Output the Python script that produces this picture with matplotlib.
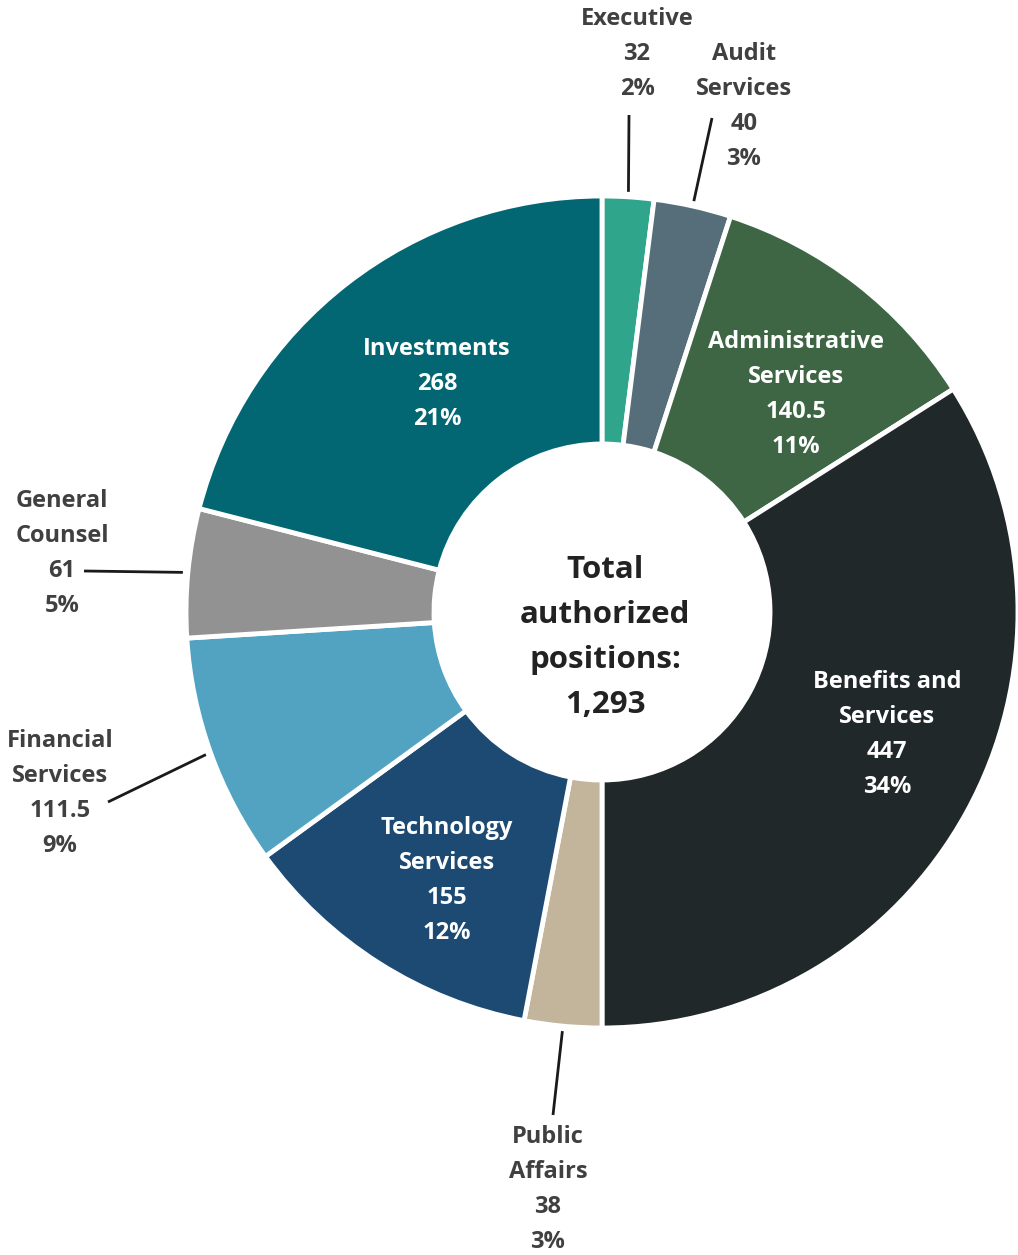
import numpy as np
import matplotlib.pyplot as plt

# authorized positions by division, clockwise from the top
divisions = ["Executive", "Audit\nServices", "Administrative\nServices", "Benefits and\nServices",
             "Public\nAffairs", "Technology\nServices", "Financial\nServices", "General\nCounsel",
             "Investments"]
positions = ["32", "40", "140.5", "447", "38", "155", "111.5", "61", "268"]
shares = [2, 3, 11, 34, 3, 12, 9, 5, 21]  # percent of total, used for the ring
colors = ["#2fa58c", "#566e7a", "#3e6645", "#21282a", "#c2b59b",
          "#1c4a72", "#52a3c1", "#929292", "#036773"]
total_label = "1,293"

W, H = 1018, 1255
fig = plt.figure(figsize=(W / 100, H / 100), dpi=100)
ax = fig.add_axes([0, 0, 1, 1])
ax.set_axis_off()

cx, cy = 602, H - 612
r_out, r_in = 416, 168

wedges, _ = ax.pie(shares, colors=colors, startangle=90, counterclock=False,
                   radius=r_out, center=(cx, cy),
                   wedgeprops=dict(width=r_out - r_in, edgecolor="white", linewidth=3.5))
ax.set_xlim(0, W)
ax.set_ylim(0, H)
ax.set_aspect("equal")

font = ["Open Sans", "DejaVu Sans"]
fs = 17
lh = 35

def label(i, x, y_top, color):
    lines = divisions[i].split("\n") + [positions[i], f"{shares[i]}%"]
    for k, s in enumerate(lines):
        ax.text(x, H - (y_top + k * lh), s, ha="center", va="center",
                fontsize=fs, fontweight="bold", color=color, family=font)

# labels inside the ring
label(2, 796, 342, "white")
label(3, 887, 682, "white")
label(5, 447, 828, "white")
label(8, 437, 349, "white")

# outside labels with leader lines
outside = {0: (637, 19, (629, 115)),
           1: (744, 54, (712, 118)),
           4: (548, 1137, (553, 1115)),
           6: (60, 741, (108, 802)),
           7: (62, 501, (84, 571))}
for i, (x, y_top, (lx, ly)) in outside.items():
    label(i, x, y_top, "#404040")
    w = wedges[i]
    mid = np.deg2rad((w.theta1 + w.theta2) / 2)
    ex, ey = cx + (r_out + 5) * np.cos(mid), cy + (r_out + 5) * np.sin(mid)
    ax.plot([lx, ex], [H - ly, ey], color="#1a1a1a", lw=2, solid_capstyle="butt")

# center text
for k, s in enumerate(["Total", "authorized", "positions:", total_label]):
    ax.text(605, H - (570 + k * 45), s, ha="center", va="center", fontsize=22.5,
            fontweight="bold", color="#222222", family=font)

fig.savefig("out.png", dpi=100)
